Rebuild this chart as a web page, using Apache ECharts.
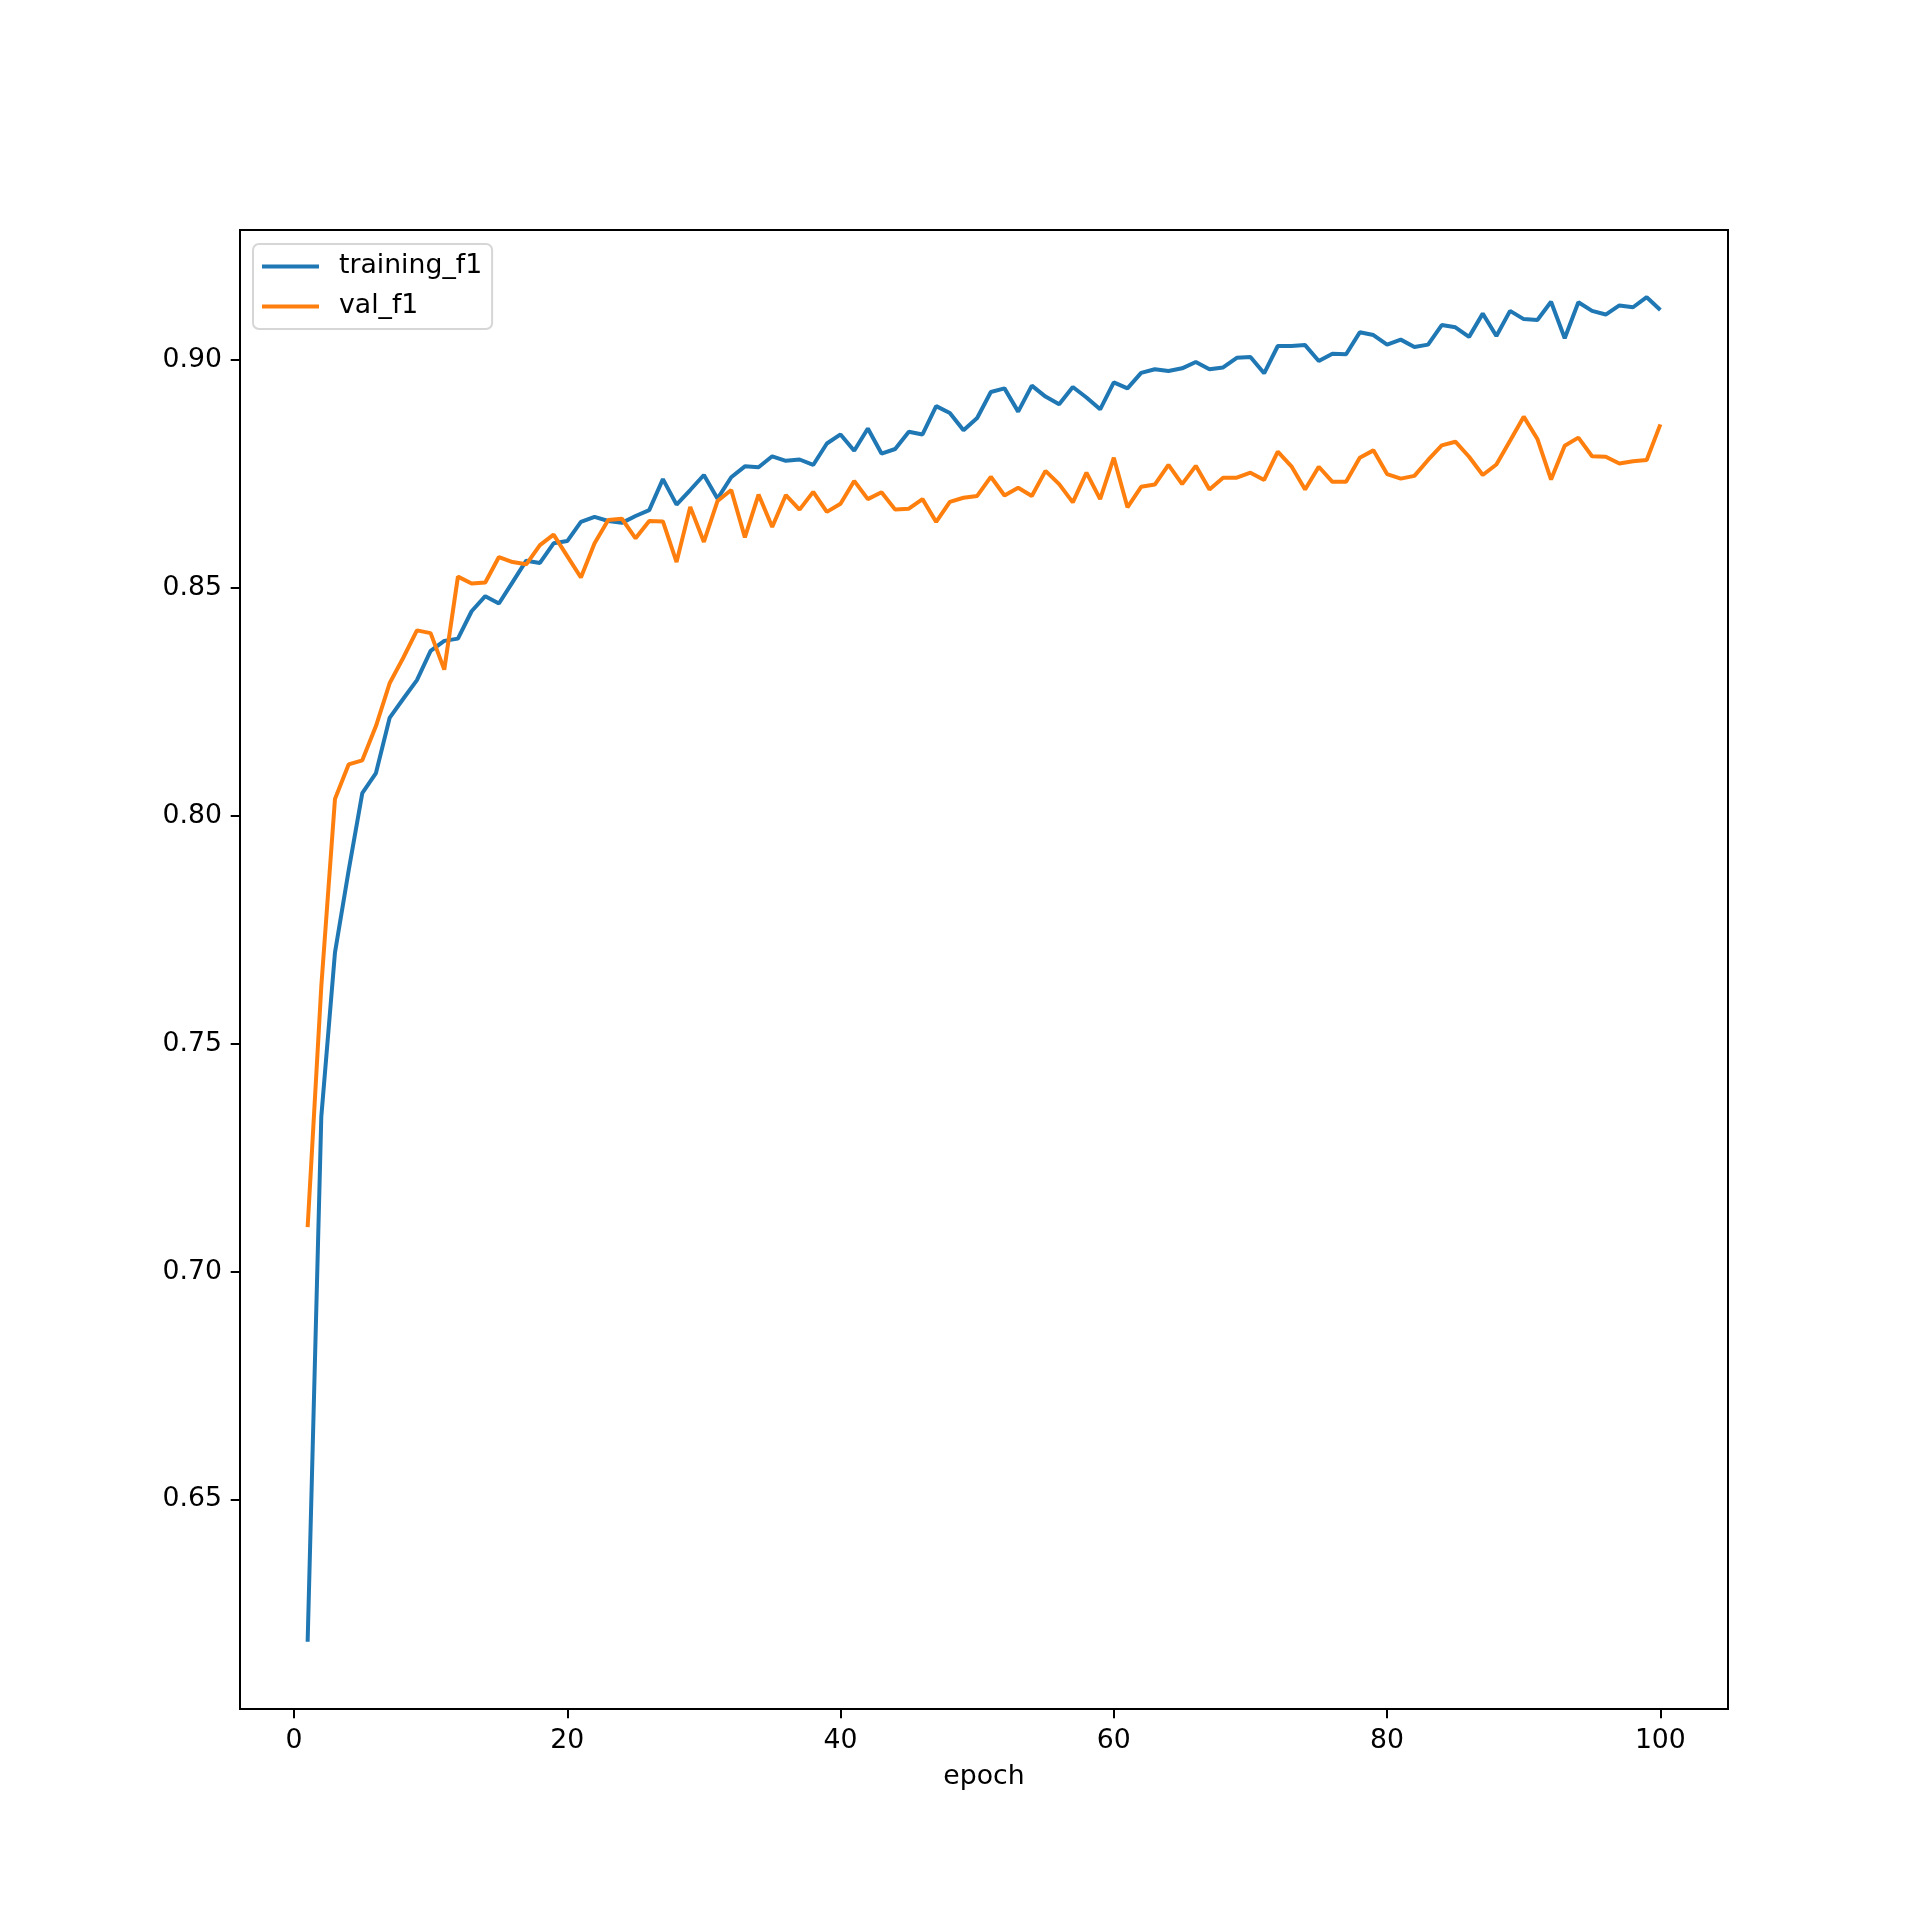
<!DOCTYPE html>
<html>
<head>
<meta charset="utf-8">
<script src="https://cdn.jsdelivr.net/npm/echarts@6/dist/echarts.min.js"></script>
<style>
    html, body { margin: 0; padding: 0; background: #fff; }
    #chart { width: 1920px; height: 1920px; }
</style>
</head>
<body>
<div id="chart"></div>
<script>
const epochs = [];
for (let e = 1; e <= 100; e++) epochs.push(e);

const trainingF1 = [
    0.6188, 0.7340, 0.7700, 0.7880, 0.8050, 0.8094, 0.8215, 0.8257, 0.8298, 0.8362,
    0.8384, 0.8389, 0.8449, 0.8482, 0.8466, 0.8513, 0.8560, 0.8555, 0.8598, 0.8603,
    0.8645, 0.8656, 0.8647, 0.8643, 0.8658, 0.8671, 0.8739, 0.8683, 0.8715, 0.8748,
    0.8696, 0.8743, 0.8767, 0.8765, 0.8789, 0.8779, 0.8782, 0.8770, 0.8817, 0.8837,
    0.8801, 0.8850, 0.8795, 0.8805, 0.8843, 0.8837, 0.8899, 0.8884, 0.8846, 0.8873,
    0.8930, 0.8938, 0.8887, 0.8944, 0.8920, 0.8903, 0.8941, 0.8918, 0.8892, 0.8951,
    0.8938, 0.8972, 0.8980, 0.8976, 0.8982, 0.8996, 0.8980, 0.8984, 0.9005, 0.9007,
    0.8971, 0.9031, 0.9031, 0.9033, 0.8998, 0.9014, 0.9013, 0.9061, 0.9055, 0.9034,
    0.9045, 0.9029, 0.9034, 0.9077, 0.9072, 0.9051, 0.9102, 0.9053, 0.9108, 0.9090,
    0.9088, 0.9128, 0.9048, 0.9127, 0.9108, 0.9100, 0.9120, 0.9116, 0.9138, 0.9110
];

const valF1 = [
    0.7098, 0.7626, 0.8037, 0.8113, 0.8122, 0.8197, 0.8291, 0.8347, 0.8407, 0.8401,
    0.8321, 0.8525, 0.8510, 0.8512, 0.8568, 0.8557, 0.8552, 0.8594, 0.8617, 0.8570,
    0.8523, 0.8598, 0.8649, 0.8652, 0.8609, 0.8647, 0.8646, 0.8557, 0.8678, 0.8601,
    0.8691, 0.8715, 0.8611, 0.8705, 0.8634, 0.8704, 0.8672, 0.8711, 0.8667, 0.8685,
    0.8735, 0.8695, 0.8710, 0.8672, 0.8674, 0.8695, 0.8645, 0.8689, 0.8698, 0.8702,
    0.8744, 0.8703, 0.8720, 0.8702, 0.8757, 0.8728, 0.8688, 0.8753, 0.8695, 0.8786,
    0.8677, 0.8722, 0.8727, 0.8770, 0.8728, 0.8768, 0.8716, 0.8742, 0.8742, 0.8753,
    0.8737, 0.8799, 0.8767, 0.8716, 0.8766, 0.8733, 0.8733, 0.8786, 0.8802, 0.8750,
    0.8740, 0.8746, 0.8781, 0.8813, 0.8821, 0.8788, 0.8748, 0.8771, 0.8823, 0.8876,
    0.8827, 0.8738, 0.8812, 0.8830, 0.8789, 0.8788, 0.8773, 0.8778, 0.8781, 0.8859
];

const xTicks = [0, 20, 40, 60, 80, 100];
const yTicks = [0.65, 0.70, 0.75, 0.80, 0.85, 0.90];

const fontFamily = 'DejaVu Sans';
const fontSize = 26.7;

function pairs(ys) {
    return epochs.map(function (e, i) { return [e, ys[i]]; });
}

const chart = echarts.init(document.getElementById('chart'), null, { renderer: 'canvas' });

chart.setOption({
    animation: false,
    backgroundColor: '#ffffff',
    textStyle: { fontFamily: fontFamily, color: '#000' },
    grid: {
        left: 240,
        right: 192,
        top: 230,
        bottom: 211,
        show: true,
        borderColor: '#000',
        borderWidth: 2,
        backgroundColor: 'transparent'
    },
    legend: {
        orient: 'vertical',
        left: 253,
        top: 244,
        data: ['training_f1', 'val_f1'],
        icon: 'rect',
        itemWidth: 57,
        itemHeight: 4,
        itemGap: 9,
        padding: [7, 10, 7, 9],
        borderColor: '#d6d6d6',
        borderWidth: 2,
        borderRadius: 6,
        backgroundColor: 'rgba(255,255,255,0.8)',
        textStyle: {
            fontFamily: fontFamily,
            fontSize: fontSize,
            lineHeight: 31,
            color: '#000',
            padding: [0, 0, 0, 15]
        }
    },
    xAxis: {
        type: 'value',
        min: -3.95,
        max: 104.95,
        name: 'epoch',
        nameLocation: 'middle',
        nameGap: 55,
        nameTextStyle: { fontFamily: fontFamily, fontSize: fontSize, color: '#000' },
        axisLine: { show: false, onZero: false },
        splitLine: { show: false },
        axisTick: {
            show: true,
            inside: false,
            length: 9.3,
            customValues: xTicks,
            lineStyle: { color: '#000', width: 2 }
        },
        axisLabel: {
            customValues: xTicks,
            margin: 19,
            fontFamily: fontFamily,
            fontSize: fontSize,
            color: '#000'
        }
    },
    yAxis: {
        type: 'value',
        min: 0.60405,
        max: 0.92855,
        axisLine: { show: false, onZero: false },
        splitLine: { show: false },
        axisTick: {
            show: true,
            inside: false,
            length: 9.3,
            customValues: yTicks,
            lineStyle: { color: '#000', width: 2 }
        },
        axisLabel: {
            customValues: yTicks,
            margin: 18,
            fontFamily: fontFamily,
            fontSize: fontSize,
            color: '#000',
            formatter: function (v) { return v.toFixed(2); }
        }
    },
    series: [
        {
            name: 'training_f1',
            type: 'line',
            data: pairs(trainingF1),
            symbol: 'none',
            showSymbol: false,
            lineStyle: { color: '#1f77b4', width: 4 },
            itemStyle: { color: '#1f77b4' }
        },
        {
            name: 'val_f1',
            type: 'line',
            data: pairs(valF1),
            symbol: 'none',
            showSymbol: false,
            lineStyle: { color: '#ff7f0e', width: 4 },
            itemStyle: { color: '#ff7f0e' }
        }
    ]
});
</script>
</body>
</html>
